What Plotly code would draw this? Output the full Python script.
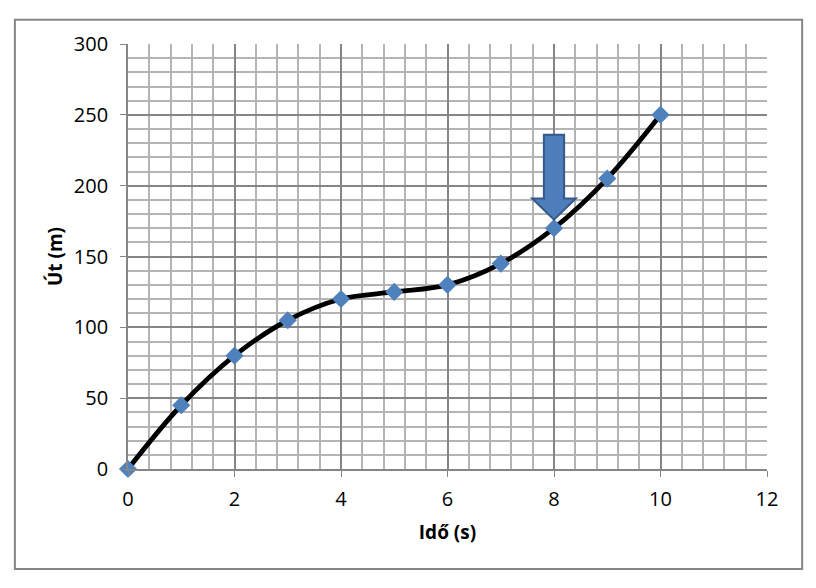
import plotly.graph_objects as go

# Data
ido = [0, 1, 2, 3, 4, 5, 6, 7, 8, 9, 10]
ut = [0, 45, 80, 105, 120, 125, 130, 145, 170, 205, 250]

# Arrow marking the point at t = 8 s
arrow_x = 8
arrow_top = 236
arrow_neck = 191
arrow_tip = 176
shaft_half = 0.19
head_half = 0.41

font_family = "Open Sans"

fig = go.Figure()

fig.add_trace(go.Scatter(
    x=ido, y=ut,
    mode="lines+markers",
    line=dict(color="black", width=4.8, shape="spline", smoothing=1),
    marker=dict(symbol="diamond", size=14, color="#4F81BD", line=dict(width=0)),
    cliponaxis=False,
    showlegend=False,
))

# Block arrow as a path in data coordinates
path = (
    f"M {arrow_x - shaft_half},{arrow_top} "
    f"L {arrow_x + shaft_half},{arrow_top} "
    f"L {arrow_x + shaft_half},{arrow_neck} "
    f"L {arrow_x + head_half},{arrow_neck} "
    f"L {arrow_x},{arrow_tip} "
    f"L {arrow_x - head_half},{arrow_neck} "
    f"L {arrow_x - shaft_half},{arrow_neck} Z"
)
fig.add_shape(type="path", path=path, xref="x", yref="y",
              fillcolor="#4F7EBC", line=dict(color="#35598A", width=2))

# Outer chart border
fig.add_shape(type="rect", xref="paper", yref="paper",
              x0=-0.177, x1=1.055, y0=-0.235, y1=1.057,
              line=dict(color="#868686", width=2), fillcolor="rgba(0,0,0,0)",
              layer="below")

fig.update_layout(
    width=816, height=588,
    margin=dict(l=120, r=57, t=36, b=127),
    paper_bgcolor="white", plot_bgcolor="white",
    font=dict(family=font_family, size=20, color="black"),
)

fig.update_xaxes(
    range=[0, 12], dtick=2, tick0=0,
    showgrid=True, gridcolor="#858585", gridwidth=1.8,
    minor=dict(dtick=0.4, showgrid=True, gridcolor="#B4B4B4", gridwidth=1.6),
    showline=True, linecolor="#868686", linewidth=1.8,
    ticks="outside", ticklen=6, tickcolor="#868686",
    ticklabelstandoff=5,
    zeroline=False,
    title=dict(text="<b>Idő (s)</b>", font=dict(size=19), standoff=15),
)
fig.update_yaxes(
    range=[0, 300], dtick=50, tick0=0,
    showgrid=True, gridcolor="#858585", gridwidth=1.8,
    minor=dict(dtick=10, showgrid=True, gridcolor="#B4B4B4", gridwidth=1.6),
    showline=True, linecolor="#868686", linewidth=1.8,
    ticks="outside", ticklen=6, tickcolor="#868686",
    ticklabelstandoff=8,
    zeroline=False,
    title=dict(text="<b>Út (m)</b>", font=dict(size=19), standoff=6),
)

fig.write_html("out.html")
